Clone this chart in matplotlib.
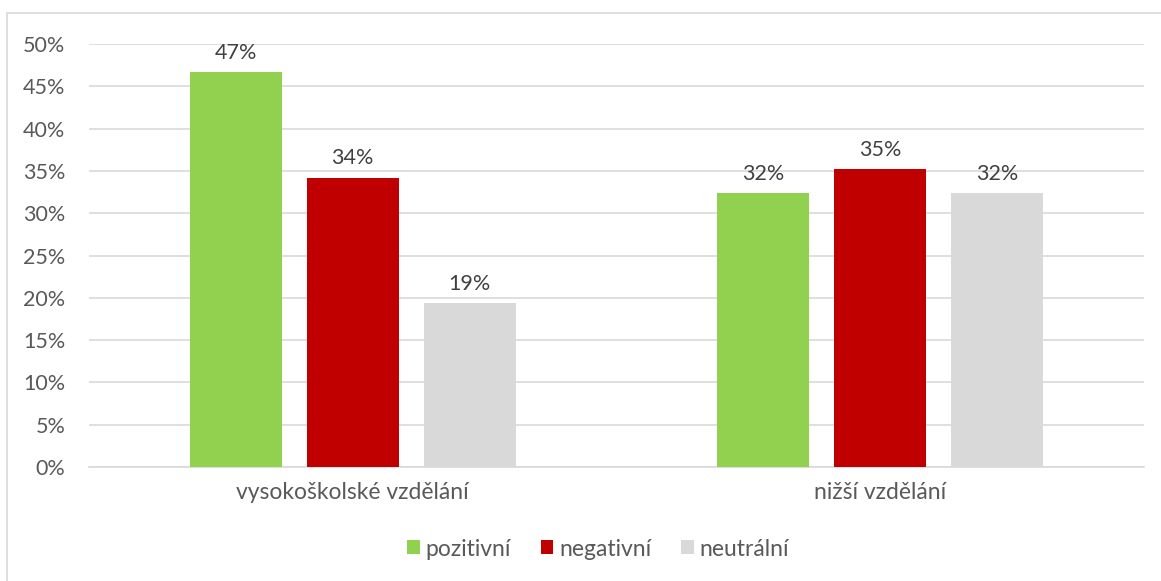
import matplotlib
matplotlib.use("Agg")
import matplotlib.pyplot as plt
import numpy as np
from matplotlib.patches import Rectangle

plt.rcParams['font.family'] = ['Lato', 'DejaVu Sans']

categories = ["vysokoškolské vzdělání", "nižší vzdělání"]
series_names = ["pozitivní", "negativní", "neutrální"]
pozitivni = [0.467, 0.324]
negativni = [0.342, 0.352]
neutralni = [0.194, 0.324]
colors = ["#92D050", "#C00000", "#D9D9D9"]
yticks = [0, 0.05, 0.10, 0.15, 0.20, 0.25, 0.30, 0.35, 0.40, 0.45, 0.50]

W, H = 1161, 581
fig = plt.figure(figsize=(W / 100, H / 100), dpi=100)
fig.patch.set_facecolor("white")

# outer chart frame (only top/left edges fall inside the canvas)
fig.patches.append(Rectangle((7 / W, -0.1), 1.2, 1 - 13 / H + 0.1,
                             transform=fig.transFigure, fill=False,
                             edgecolor="#D9D9D9", linewidth=1.2))

ax = fig.add_axes([89 / W, 1 - 467 / H, (1144 - 89) / W, (467 - 44) / H])
text_color = "#595959"

x = np.arange(len(categories))
width = 0.174
step = 0.222
for i, (vals, name) in enumerate(zip([pozitivni, negativni, neutralni], series_names)):
    pos = x + (i - 1) * step
    bars = ax.bar(pos, vals, width, color=colors[i], label=name, zorder=3)
    for b, v in zip(bars, vals):
        ax.text(b.get_x() + b.get_width() / 2, v + 0.011, f"{v * 100:.0f}%",
                ha="center", va="bottom", fontsize=15.5, color="#404040")

ax.set_xlim(-0.5, 1.5)
ax.set_ylim(0, 0.5)
ax.set_yticks(yticks)
ax.set_yticklabels([f"{t * 100:.0f}%" for t in yticks], fontsize=15.5, color=text_color)
ax.set_xticks(x)
ax.set_xticklabels(categories, fontsize=16.5, color=text_color)
ax.tick_params(axis="both", length=0)
ax.tick_params(axis="y", pad=17)
ax.tick_params(axis="x", pad=11)
ax.yaxis.grid(True, color="#D9D9D9", linewidth=1.2, zorder=0)
for s in ["top", "right", "left"]:
    ax.spines[s].set_visible(False)
ax.spines["bottom"].set_color("#D9D9D9")
ax.spines["bottom"].set_linewidth(1.2)

leg = fig.legend(loc="center", bbox_to_anchor=(598 / W, 1 - 549 / H), ncol=3,
                 frameon=False, fontsize=16.5, handlelength=0.55, handleheight=0.55,
                 handletextpad=0.25, columnspacing=1.3)
for t in leg.get_texts():
    t.set_color(text_color)

fig.savefig("out.png", dpi=100, facecolor="white")
